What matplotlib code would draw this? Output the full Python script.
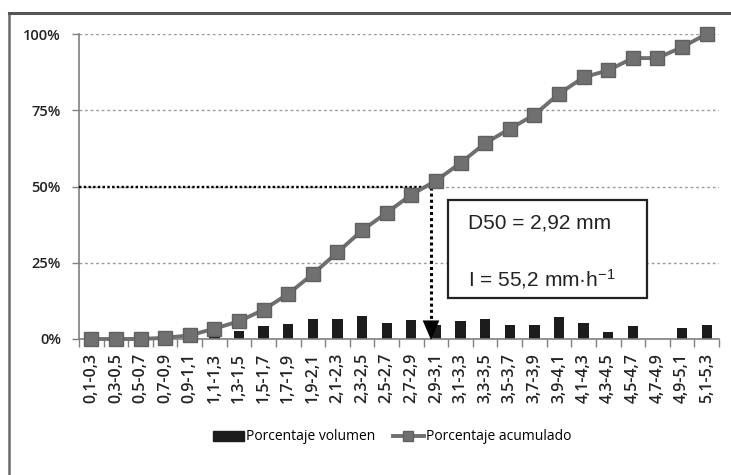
import matplotlib
matplotlib.use("Agg")
import matplotlib.pyplot as plt
from matplotlib.lines import Line2D
from matplotlib.patches import Patch
import numpy as np

categories = ["0,1-0,3", "0,3-0,5", "0,5-0,7", "0,7-0,9", "0,9-1,1", "1,1-1,3",
              "1,3-1,5", "1,5-1,7", "1,7-1,9", "1,9-2,1", "2,1-2,3", "2,3-2,5",
              "2,5-2,7", "2,7-2,9", "2,9-3,1", "3,1-3,3", "3,3-3,5", "3,5-3,7",
              "3,7-3,9", "3,9-4,1", "4,1-4,3", "4,3-4,5", "4,5-4,7", "4,7-4,9",
              "4,9-5,1", "5,1-5,3"]
volumen = [0.0, 0.0, 0.0, 0.0, 0.0, 0.6, 2.5, 4.1, 5.0, 6.5, 6.5, 7.7, 5.4, 6.3,
           4.5, 6.0, 6.6, 4.5, 4.5, 7.3, 5.1, 2.4, 4.3, 0.0, 3.6, 4.6]
acumulado = [0.0, 0.0, 0.0, 0.4, 1.2, 3.4, 5.8, 9.6, 14.8, 21.3, 28.4, 35.6, 41.4,
             47.3, 51.9, 57.7, 64.2, 68.9, 73.5, 80.4, 85.8, 88.1, 92.1, 92.1, 95.7, 100.0]
ytick_vals = [0, 25, 50, 75, 100]
ytick_labels = ["0%", "25%", "50%", "75%", "100%"]
d50_pos = 13.8  # category-axis position of D50 = 2,92 mm
box_lines = ["D50 = 2,92 mm", "I = 55,2 mm\u00b7h$^{-1}$"]
legend_labels = ["Porcentaje volumen", "Porcentaje acumulado"]

plt.rcParams['mathtext.default'] = 'regular'

fig = plt.figure(figsize=(7.31, 4.75), dpi=100)
ax = fig.add_axes([79/731, 1-339/475, 640/731, 305/475])

x = np.arange(len(categories))
ax.bar(x, volumen, width=0.42, color="#1c1c1c", zorder=2)
ax.plot(x, acumulado, color="#6f6f6f", lw=2.8, marker="s", markersize=9.5,
        markerfacecolor="#707070", markeredgecolor="#606060", zorder=4, clip_on=False)

ax.set_xlim(-0.5, len(categories) - 0.5)
ax.set_ylim(0, 100)

# gridlines
for v in ytick_vals[1:]:
    ax.axhline(v, color="#9a9a9a", lw=1.0, ls=(0, (2, 2)), zorder=1)
# D50 guide lines
ax.plot([-0.5, d50_pos], [50, 50], color="black", lw=1.7, ls=(0, (1, 1)), zorder=3)
ax.plot([d50_pos, d50_pos], [50, 6], color="black", lw=2.2, ls=(0, (1, 1)), zorder=3)
ax.annotate("", xy=(d50_pos, -1.2), xytext=(d50_pos, 7),
            arrowprops=dict(arrowstyle="-|>,head_width=0.6,head_length=1.4",
                            color="black", lw=0), zorder=5, annotation_clip=False)

# axes styling
for s in ["top", "right"]:
    ax.spines[s].set_visible(False)
ax.spines["left"].set_color("#808080")
ax.spines["bottom"].set_color("#808080")
ax.spines["left"].set_linewidth(1.2)
ax.spines["bottom"].set_linewidth(1.2)

ax.set_yticks(ytick_vals)
ax.set_yticklabels(ytick_labels, fontfamily="Open Sans", fontsize=10.5,
                   fontweight="semibold", color="#222222")
ax.tick_params(axis="y", length=5, width=1.0, color="#808080", pad=8)

ax.set_xticks(x)
ax.set_xticklabels(categories, rotation=90, fontfamily="Open Sans", fontsize=11.5,
                   fontweight="semibold", color="#222222")
ax.set_xticks(np.arange(-0.5, len(categories), 1.0), minor=True)
ax.tick_params(axis="x", which="major", length=0, pad=10)
ax.tick_params(axis="x", which="minor", length=6, width=1.0, color="#808080")

# text box
fig.patches.append(plt.Rectangle((448/731, 1-298/475), 199/731, 98/475,
                                 transform=fig.transFigure, fill=True,
                                 facecolor="white", edgecolor="#222222", lw=1.6,
                                 zorder=6))
fig.text(468/731, 1-223/475, box_lines[0], fontfamily="Liberation Sans",
         fontsize=15, va="center", ha="left", color="#222222", zorder=7)
fig.text(468/731, 1-279/475, box_lines[1], fontfamily="Liberation Sans",
         fontsize=15, va="center", ha="left", color="#222222", zorder=7)

# legend
handles = [Patch(facecolor="#1c1c1c", edgecolor="#1c1c1c"),
           Line2D([0], [0], color="#6f6f6f", lw=2.8, marker="s", markersize=7,
                  markerfacecolor="#707070", markeredgecolor="#606060")]
leg = fig.legend(handles, legend_labels,
                 loc="center", bbox_to_anchor=(392/731, 1-437/475), ncol=2,
                 frameon=False, handlelength=2.2, handletextpad=0.15,
                 columnspacing=1.3,
                 prop={"family": "Open Sans", "size": 10})

# outer frame (left and top edges visible)
fig.add_artist(Line2D([9/731, 9/731], [0, 1-13/475], transform=fig.transFigure,
                      color="#6a6a6a", lw=1.8))
fig.add_artist(Line2D([9/731, 1], [1-13/475, 1-13/475], transform=fig.transFigure,
                      color="#555555", lw=2.2))

fig.savefig("out.png", dpi=100)
